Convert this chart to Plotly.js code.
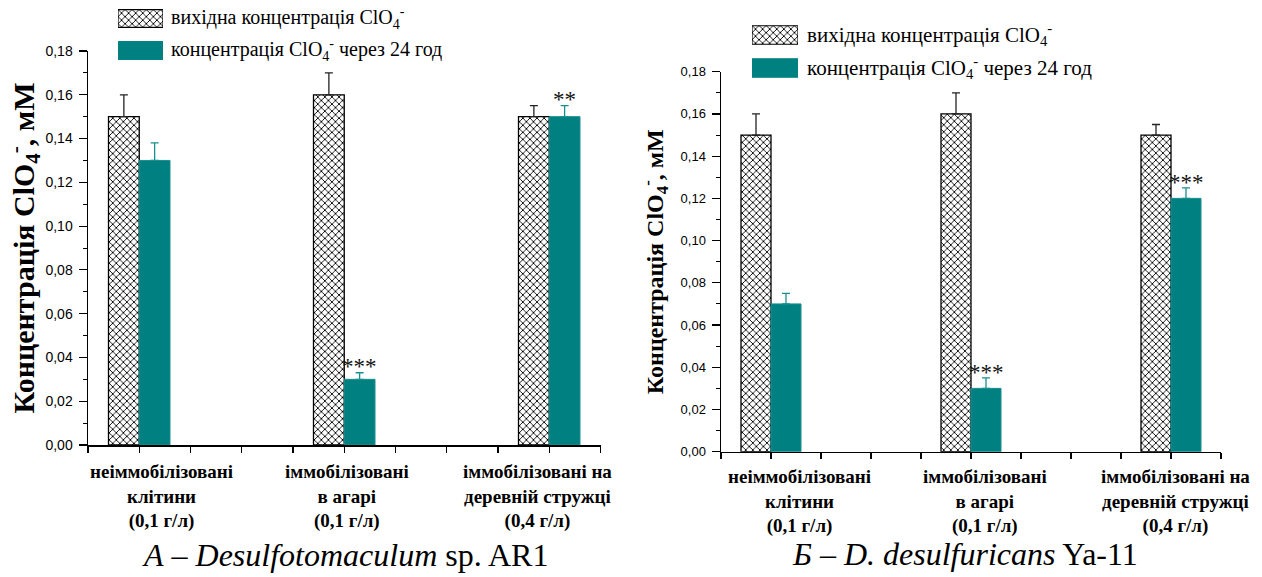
<!DOCTYPE html>
<html>
<head>
<meta charset="utf-8">
<script src="https://cdn.plot.ly/plotly-3.0.1.min.js"></script>
<style>html,body{margin:0;padding:0;background:#fff}#chart{width:1262px;height:577px}</style>
</head>
<body>
<div id="chart"></div>
<script>
// ---- data ----
const categories = [
  'неіммобілізовані<br>клітини<br>(0,1 г/л)',
  'іммобілізовані<br>в агарі<br>(0,1 г/л)',
  'іммобілізовані на<br>деревній стружці<br>(0,4 г/л)'
];
const catIndex = [0, 1, 2];
const seriesNames = [
  'вихідна концентрація ClO<sub>4</sub><sup>-</sup>',
  'концентрація ClO<sub>4</sub><sup>-</sup> через 24 год'
];
// panel A – Desulfotomaculum sp. AR1
const initialA = [0.15, 0.16, 0.15];
const initialErrA = [0.01, 0.01, 0.005];
const after24A = [0.13, 0.03, 0.15];
const after24ErrA = [0.008, 0.003, 0.005];
const signifA = ['', '***', '**'];
// panel B – D. desulfuricans Ya-11
const initialB = [0.15, 0.16, 0.15];
const initialErrB = [0.01, 0.01, 0.005];
const after24B = [0.07, 0.03, 0.12];
const after24ErrB = [0.005, 0.005, 0.005];
const signifB = ['', '***', '***'];
const legendKeyValue = [1];
const legendKeyRow = [1, 0];
const yTitle = 'Концентрація ClO<sub>4</sub><sup>-</sup>, мМ';
const captionA = '<i>А – Desulfotomaculum</i> sp. AR1';
const captionB = '<i>Б – D. desulfuricans</i> Ya-11';

// ---- style ----
const W = 1262, H = 577;
const TEAL = '#008080';
const SERIF = 'Liberation Serif, Times New Roman, serif';
const SANS = 'Liberation Sans, Arial, sans-serif';
const BARGAP = 0.7;
const barW = (1 - BARGAP) / 2;
const px = v => v / W;
const py = v => (H - v) / H;
const zeros = [0, 0, 0];
const HATCH = {shape: 'x', size: 5, solidity: 0.32, fgcolor: 'black', bgcolor: 'white'};

function hatchBar(y, err, xa, ya) {
  return {
    type: 'bar', x: catIndex, y: y, xaxis: xa, yaxis: ya, showlegend: false, hoverinfo: 'skip',
    marker: {color: 'white', line: {color: 'black', width: 1.3}, pattern: HATCH},
    error_y: {type: 'data', symmetric: false, array: err, arrayminus: zeros, color: '#222', thickness: 1.3, width: 4}
  };
}
function tealBar(y, err, xa, ya) {
  return {
    type: 'bar', x: catIndex, y: y, xaxis: xa, yaxis: ya, showlegend: false, hoverinfo: 'skip',
    marker: {color: TEAL, line: {color: '#1a8f8f', width: 1}},
    error_y: {type: 'data', symmetric: false, array: err, arrayminus: zeros, color: '#1a8f8f', thickness: 1.3, width: 4}
  };
}
function legendKey(row, hatched, xa, ya, w) {
  return {
    type: 'bar', orientation: 'h', x: legendKeyValue, y: [legendKeyRow[row]], width: w, offset: -w / 2,
    xaxis: xa, yaxis: ya, showlegend: false, hoverinfo: 'skip',
    marker: hatched ? {color: 'white', line: {color: 'black', width: 1.2}, pattern: HATCH}
                    : {color: TEAL, line: {color: TEAL, width: 1}}
  };
}

const data = [
  hatchBar(initialA, initialErrA, 'x', 'y'),
  tealBar(after24A, after24ErrA, 'x', 'y'),
  hatchBar(initialB, initialErrB, 'x2', 'y2'),
  tealBar(after24B, after24ErrB, 'x2', 'y2'),
  legendKey(0, true, 'x3', 'y3', 0.56),
  legendKey(1, false, 'x3', 'y3', 0.56),
  legendKey(0, true, 'x4', 'y4', 0.56),
  legendKey(1, false, 'x4', 'y4', 0.56)
];

const quarterTicks = [-0.25, 0, 0.25, 0.5, 0.75, 1, 1.25, 1.5, 1.75, 2, 2.25];
function xAxis(domain, anchor) {
  return {domain: domain, anchor: anchor, range: [-0.25, 2.25], showline: true, linecolor: 'black', linewidth: 1.5,
    ticks: 'outside', ticklen: 6, tickwidth: 1.2, tickcolor: 'black', tickmode: 'array', tickvals: quarterTicks,
    showticklabels: false, showgrid: false, zeroline: false, fixedrange: true};
}
function yAxis(domain, anchor, tickSize, titleSize, standoff) {
  return {domain: domain, anchor: anchor, range: [0, 0.18], showline: true, linecolor: 'black', linewidth: 1.5,
    ticks: 'outside', ticklen: 8, tickwidth: 1.2, tickcolor: 'black', dtick: 0.02, tick0: 0, tickformat: '.2f',
    minor: {dtick: 0.01, ticks: 'outside', ticklen: 4, tickwidth: 1, tickcolor: 'black', showgrid: false},
    tickfont: {family: SANS, size: tickSize, color: 'black'}, ticklabelstandoff: 3,
    showgrid: false, zeroline: false, fixedrange: true,
    title: {text: yTitle, font: {family: SERIF, size: titleSize, color: 'black', weight: 'bold'}, standoff: standoff}};
}
function hidden(domain, anchor, range) {
  return {domain: domain, anchor: anchor, range: range, visible: false, fixedrange: true};
}

const annotations = [];
// category labels
const labelShiftA = [22, 3, -12];
const labelShiftB = [28, 14, 4];
catIndex.forEach(i => {
  annotations.push({xref: 'x', yref: 'y', x: i, y: 0, xanchor: 'center', yanchor: 'top', yshift: -15, xshift: labelShiftA[i],
    text: categories[i], showarrow: false, align: 'center', borderpad: 0,
    font: {family: SERIF, size: 19, color: 'black', weight: 'bold'}});
  annotations.push({xref: 'x2', yref: 'y2', x: i, y: 0, xanchor: 'center', yanchor: 'top', yshift: -13, xshift: labelShiftB[i],
    text: categories[i], showarrow: false, align: 'center', borderpad: 0,
    font: {family: SERIF, size: 19, color: 'black', weight: 'bold'}});
  if (signifA[i]) annotations.push({xref: 'x', yref: 'y', x: i + barW / 2, y: after24A[i] + after24ErrA[i],
    xanchor: 'center', yanchor: 'bottom', yshift: -7, text: signifA[i], showarrow: false, borderpad: 0,
    font: {family: SERIF, size: 23, color: '#111'}});
  if (signifB[i]) annotations.push({xref: 'x2', yref: 'y2', x: i + barW / 2, y: after24B[i] + after24ErrB[i],
    xanchor: 'center', yanchor: 'bottom', yshift: -8, text: signifB[i], showarrow: false, borderpad: 0,
    font: {family: SERIF, size: 23, color: '#111'}});
});
// legend texts
[0, 1].forEach(k => {
  annotations.push({xref: 'paper', yref: 'y3', x: px(170), y: legendKeyRow[k], xanchor: 'left', yanchor: 'middle',
    text: seriesNames[k], showarrow: false, borderpad: 0, font: {family: SERIF, size: 20, color: 'black'}});
  annotations.push({xref: 'paper', yref: 'y4', x: px(806), y: legendKeyRow[k], xanchor: 'left', yanchor: 'middle',
    text: seriesNames[k], showarrow: false, borderpad: 0, font: {family: SERIF, size: 21, color: 'black'}});
});
// captions
annotations.push({xref: 'paper', yref: 'paper', x: px(345), y: py(555), xanchor: 'center', yanchor: 'middle',
  text: captionA, showarrow: false, font: {family: SERIF, size: 32, color: 'black'}});
annotations.push({xref: 'paper', yref: 'paper', x: px(965), y: py(554), xanchor: 'center', yanchor: 'middle',
  text: captionB, showarrow: false, font: {family: SERIF, size: 32, color: 'black'}});

const layout = {
  width: W, height: H, margin: {l: 0, r: 0, t: 0, b: 0},
  paper_bgcolor: 'white', plot_bgcolor: 'rgba(0,0,0,0)',
  separators: ', ', barmode: 'group', bargap: BARGAP, bargroupgap: 0,
  showlegend: false,
  xaxis: xAxis([px(88), px(600.5)], 'y'),
  yaxis: yAxis([py(445), py(51)], 'x', 14, 30, 1),
  xaxis2: xAxis([px(721), px(1221)], 'y2'),
  yaxis2: yAxis([py(451.7), py(71.7)], 'x2', 13, 24, 10),
  xaxis3: hidden([px(118), px(163)], 'y3', [0, 1]),
  yaxis3: hidden([py(66.5), py(2.5)], 'x3', [-0.5, 1.5]),
  xaxis4: hidden([px(752), px(798)], 'y4', [0, 1]),
  yaxis4: hidden([py(84.5), py(18.5)], 'x4', [-0.5, 1.5]),
  annotations: annotations
};

Plotly.newPlot('chart', data, layout, {staticPlot: true, displayModeBar: false});
</script>
</body>
</html>
